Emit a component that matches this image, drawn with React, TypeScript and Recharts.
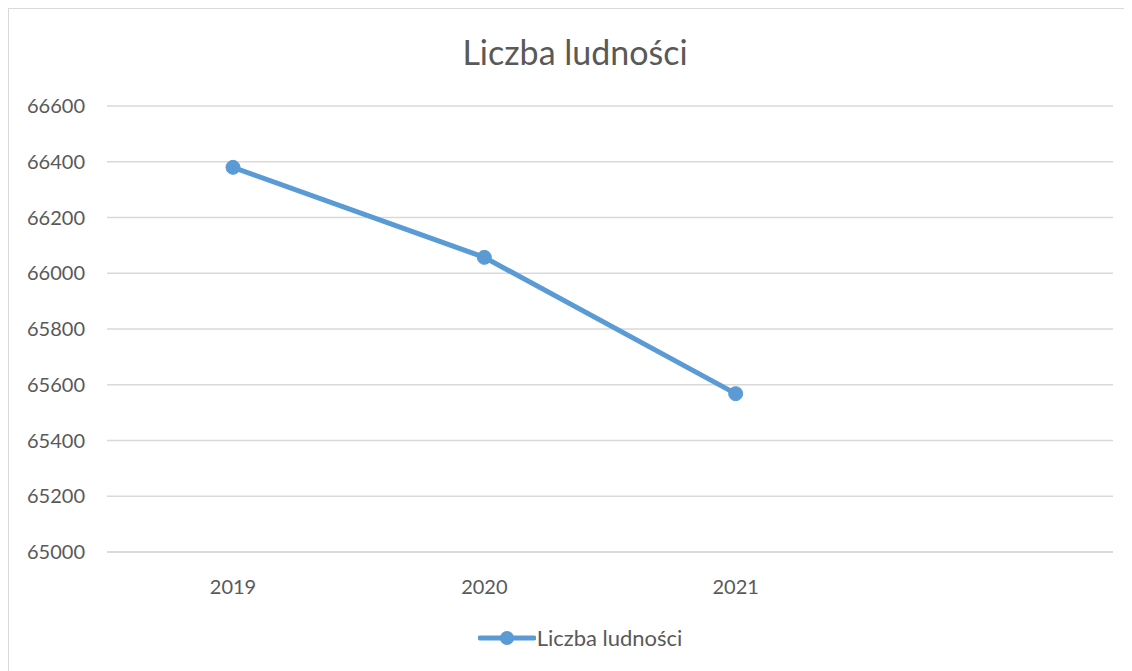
import { LineChart, Line, XAxis, YAxis, CartesianGrid, Legend } from 'recharts';

const years = ['2019', '2020', '2021', ''];
const population = [66380, 66057, 65568, null];
const yTicks = [65000, 65200, 65400, 65600, 65800, 66000, 66200, 66400, 66600];

const seriesName = 'Liczba ludności';
const lineColor = '#5b9bd5';
const textColor = '#595959';
const font = 'Lato, "Open Sans", sans-serif';

const data = years.map((year, i) => ({ year, value: population[i] }));

function LegendContent() {
  return (
    <div style={{ display: 'flex', justifyContent: 'center', alignItems: 'center', paddingLeft: 38, fontFamily: font, fontSize: 22, color: textColor }}>
      <svg width={58} height={16} style={{ marginRight: 1 }}>
        <line x1={2} y1={8} x2={56} y2={8} stroke={lineColor} strokeWidth={5} strokeLinecap="round" />
        <circle cx={29} cy={8} r={7} fill={lineColor} />
      </svg>
      <span>{seriesName}</span>
    </div>
  );
}

export default function App() {
  return (
    <div
      style={{
        position: 'relative',
        width: 1124,
        height: 663,
        borderLeft: '1px solid #d9d9d9',
        borderTop: '1px solid #d9d9d9',
        boxSizing: 'border-box',
        background: '#fff',
      }}
    >
      <div
        style={{
          position: 'absolute',
          top: 22,
          left: 0,
          width: 1132,
          textAlign: 'center',
          fontFamily: font,
          fontSize: 34,
          color: textColor,
        }}
      >
        {seriesName}
      </div>
      <LineChart width={1123} height={662} data={data} margin={{ top: 97, right: 19, bottom: 20, left: 0 }}>
        <CartesianGrid vertical={false} stroke="#d9d9d9" strokeWidth={1.5} />
        <XAxis
          dataKey="year"
          padding={{ left: 126, right: 126 }}
          axisLine={{ stroke: '#d9d9d9', strokeWidth: 1.5 }}
          tickLine={false}
          tickSize={0}
          tickMargin={28}
          height={72}
          interval={0}
          tick={{ fill: textColor, fontSize: 20, fontFamily: font }}
        />
        <YAxis
          domain={[65000, 66600]}
          ticks={yTicks}
          axisLine={false}
          tickLine={false}
          tickSize={0}
          tickMargin={22}
          width={98}
          tick={{ fill: textColor, fontSize: 20, fontFamily: font }}
        />
        <Legend verticalAlign="bottom" content={<LegendContent />} wrapperStyle={{ bottom: 20 }} />
        <Line
          type="linear"
          dataKey="value"
          name={seriesName}
          stroke={lineColor}
          strokeWidth={5}
          dot={{ r: 7, fill: lineColor, stroke: lineColor, strokeWidth: 1 }}
          activeDot={false}
          isAnimationActive={false}
        />
      </LineChart>
    </div>
  );
}
